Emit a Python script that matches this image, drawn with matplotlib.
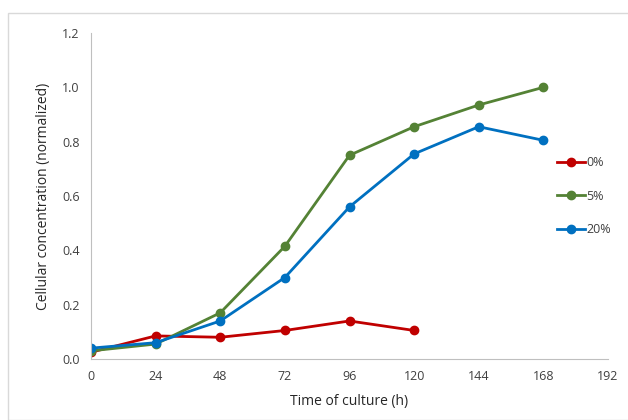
import matplotlib
matplotlib.use("Agg")
import matplotlib.pyplot as plt
from matplotlib.patches import Rectangle

time_h = [0, 24, 48, 72, 96, 120, 144, 168]
conc_0 = [0.025, 0.085, 0.08, 0.105, 0.14, 0.105]
conc_5 = [0.03, 0.055, 0.17, 0.415, 0.75, 0.855, 0.935, 1.0]
conc_20 = [0.04, 0.06, 0.14, 0.30, 0.56, 0.755, 0.855, 0.805]
labels = ["0%", "5%", "20%"]
colors = ["#C00000", "#548235", "#0070C0"]

plt.rcParams['font.family'] = ['Open Sans', 'DejaVu Sans']

fig = plt.figure(figsize=(6.28, 4.2), dpi=100)
fig.patches.append(Rectangle((8/628, 0), 1, 1 - 13/420, transform=fig.transFigure,
                             fill=False, edgecolor="#D9D9D9", linewidth=1))
ax = fig.add_axes([91/628, 1 - 359/420, (608-91)/628, (359-33)/420])

series = [(time_h[:6], conc_0), (time_h, conc_5), (time_h, conc_20)]
for (x, y), lab, c in zip(series, labels, colors):
    ax.plot(x, y, color=c, linewidth=2, marker='o', markersize=6, label=lab)

ax.set_xlim(0, 192)
ax.set_ylim(0, 1.2)
ax.set_xticks(range(0, 193, 24))
ax.set_yticks([0, 0.2, 0.4, 0.6, 0.8, 1.0, 1.2])
ax.set_yticklabels([f"{v:.1f}" for v in [0, 0.2, 0.4, 0.6, 0.8, 1.0, 1.2]])
for s in ['top', 'right']:
    ax.spines[s].set_visible(False)
for s in ['left', 'bottom']:
    ax.spines[s].set_color('#BFBFBF')
ax.tick_params(length=0, labelsize=9, colors='#404040', pad=8)
ax.set_xlabel("Time of culture (h)", fontsize=10, color='#262626', labelpad=8)
ax.set_ylabel("Cellular concentration (normalized)", fontsize=10, color='#262626', labelpad=8)

ax.legend(loc='center left', bbox_to_anchor=(0.88, 0.5), frameon=False, fontsize=9,
          handlelength=2.2, handletextpad=0.1, labelspacing=1.65, labelcolor='#404040')

fig.savefig("out.png", dpi=100)
